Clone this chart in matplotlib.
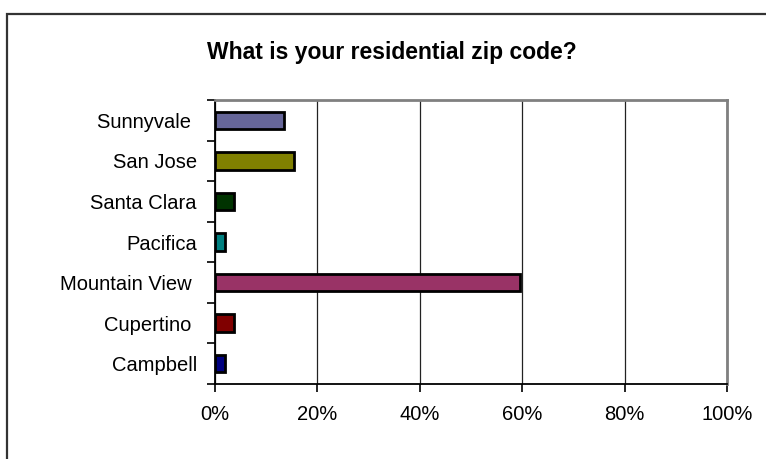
import matplotlib
matplotlib.use('Agg')
import matplotlib.pyplot as plt
from matplotlib.patches import Rectangle
import numpy as np

plt.rcParams['font.family'] = ['Liberation Sans', 'DejaVu Sans']

# bottom to top, as drawn
towns = ['Campbell', 'Cupertino ', 'Mountain View ', 'Pacifica', 'Santa Clara', 'San Jose', 'Sunnyvale ']
shares = [1.9, 3.8, 59.6, 1.9, 3.8, 15.4, 13.5]
bar_colors = ['#000080', '#800000', '#993366', '#008080', '#003300', '#808000', '#666699']
x_ticks = [0, 20, 40, 60, 80, 100]
x_labels = ['0%', '20%', '40%', '60%', '80%', '100%']
title = 'What is your residential zip code?'

fig = plt.figure(figsize=(7.66, 4.59), dpi=100)
ax = fig.add_axes([215 / 766, 1 - 384 / 459, 512 / 766, 284 / 459])

# outer chart frame (runs off the right and bottom edges)
fig.patches.append(Rectangle((7 / 766, -0.1), 1.2, 1.1 - 14 / 459, transform=fig.transFigure,
                             fill=False, edgecolor='#333333', linewidth=1.6))

y = np.arange(len(towns))
ax.barh(y, shares, height=0.43, color=bar_colors, edgecolor='black', linewidth=2, zorder=3)

ax.set_xlim(0, 100)
ax.set_ylim(-0.5, len(towns) - 0.5)
ax.set_xticks(x_ticks)
ax.set_xticklabels(x_labels, fontsize=14.5)
ax.xaxis.grid(True, color='#222222', linewidth=0.9, zorder=0)

# tick marks between categories, labels at centres
ax.set_yticks(np.arange(len(towns) + 1) - 0.5)
ax.set_yticklabels([])
ax.set_yticks(y, minor=True)
ax.set_yticklabels(towns, minor=True, fontsize=14.5)
ax.tick_params(axis='y', which='minor', length=0, pad=13)
ax.tick_params(axis='y', which='major', length=6, width=1.2, direction='out')
ax.tick_params(axis='x', length=6, width=1.2, direction='out', pad=9)

for side in ['left', 'bottom']:
    ax.spines[side].set_color('black')
    ax.spines[side].set_linewidth(1.3)
for side in ['top', 'right']:
    ax.spines[side].set_color('#808080')
    ax.spines[side].set_linewidth(2)

fig.text(392 / 766, 1 - 53 / 459, title, ha='center', va='center', fontsize=16.5, fontweight='bold')

fig.savefig('out.png', dpi=100)
